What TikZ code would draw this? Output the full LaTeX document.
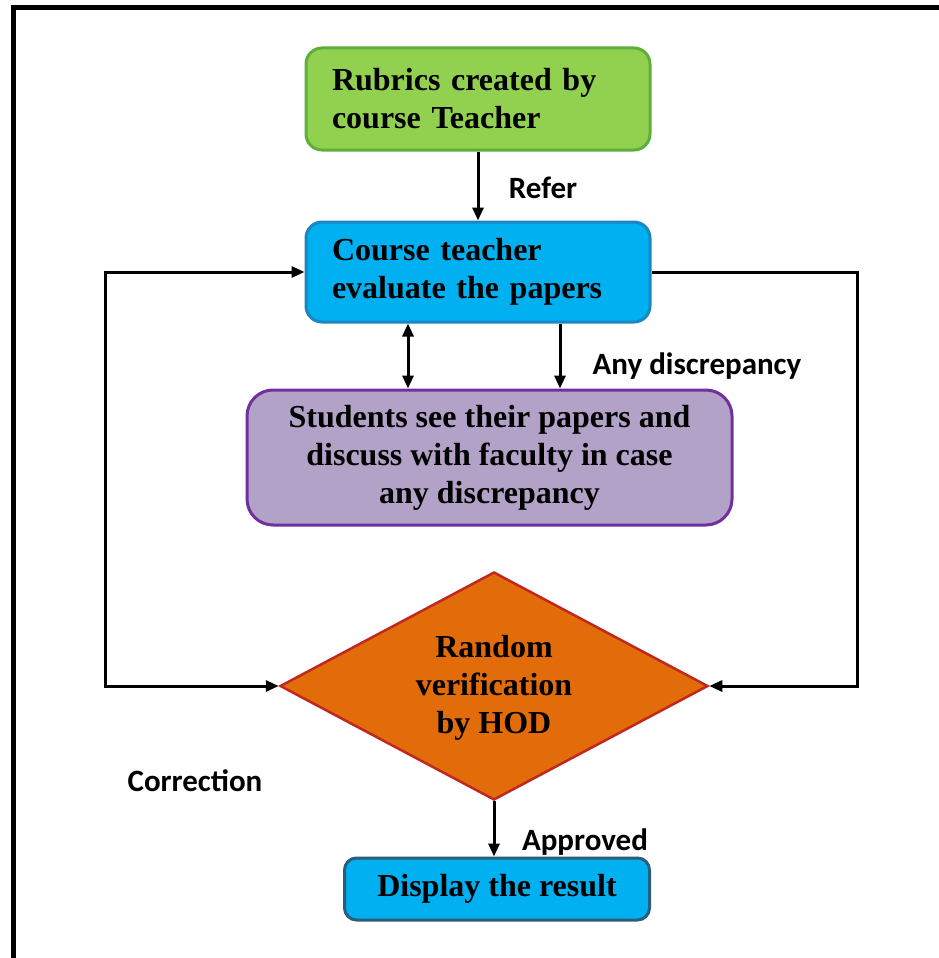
\documentclass[tikz,border=0pt]{standalone}
\usepackage{fontspec}
\setmainfont{Liberation Serif}
\newfontfamily\lblfont{Carlito}
\usetikzlibrary{shapes.geometric,arrows.meta}
\definecolor{gfill}{HTML}{92D050}
\definecolor{gline}{HTML}{5FAE3A}
\definecolor{bfill}{HTML}{00B0F0}
\definecolor{bline}{HTML}{1B86C0}
\definecolor{pfill}{HTML}{B3A2C7}
\definecolor{pline}{HTML}{7030A0}
\definecolor{ofill}{HTML}{E36C0A}
\definecolor{oline}{HTML}{C0281E}
\definecolor{dline}{HTML}{2A5E7A}
\tikzset{
  boxtext/.style={font=\fontsize{32}{38}\selectfont\bfseries},
  lbl/.style={font=\lblfont\fontsize{31}{36}\selectfont\bfseries, inner sep=0pt},
  leftbox/.style={boxtext, draw, line width=3pt, rounded corners=16pt, text width=292pt, inner xsep=26pt, align=left, minimum height=100pt},
  conn/.style={line width=3pt, -{Triangle[length=13pt,width=11pt]}},
  conn2/.style={line width=3pt, {Triangle[length=13pt,width=11pt]}-{Triangle[length=13pt,width=11pt]}},
}
\begin{document}
\begin{tikzpicture}[x=1pt,y=-1pt]
\useasboundingbox (0,0) rectangle (939,958);
\fill[white] (0,0) rectangle (939,958);
\draw[line width=5pt] (13.5,958) -- (13.5,7.5) -- (939,7.5);

\node[leftbox, fill=gfill, draw=gline, minimum height=102pt] (green) at (478,99) {Rubrics created by\\course Teacher};
\node[leftbox, fill=bfill, draw=bline] (blue) at (478,272) {Course teacher\\evaluate the papers};
\node[boxtext, draw=pline, fill=pfill, line width=3pt, rounded corners=26pt, minimum width=485pt, minimum height=135pt, align=center] (purple) at (489.5,457.5) {Students see their papers and\\discuss with faculty in case\\any discrepancy};
\node[diamond, draw=oline, fill=ofill, line width=2.5pt, minimum width=428pt, minimum height=228pt, inner sep=0pt] (dia) at (494,686) {};
\node[boxtext, align=center, inner sep=0pt] (diatext) at (494,688) {Random\\verification\\by HOD};
\node[boxtext, draw=dline, fill=bfill, line width=3pt, rounded corners=12pt, minimum width=305pt, minimum height=62pt] (disp) at (497,889) {Display the result};

\coordinate (dx1) at (408,0);
\coordinate (dx2) at (560,0);
\coordinate (lt) at (105,272);
\coordinate (lb) at (105,686);
\coordinate (rt) at (857,272);
\coordinate (rb) at (857,686);

\draw[conn] (green) -- (blue);
\draw[conn2] (blue.south -| dx1) -- (purple.north -| dx1);
\draw[conn] (blue.south -| dx2) -- (purple.north -| dx2);
\draw[conn2] (blue.west) -- (lt) -- (lb) -- (dia.west);
\draw[conn] (blue.east) -- (rt) -- (rb) -- (dia.east);
\draw[conn] (dia.south) -- (dia.south |- disp.north);

\node[lbl] (refer) at (543,188) {Refer};
\node[lbl] (anyd) at (697,366) {Any discrepancy};
\node[lbl] (corr) at (195,781) {Correction};
\node[lbl] (appr) at (585,842) {Approved};
\end{tikzpicture}
\end{document}
